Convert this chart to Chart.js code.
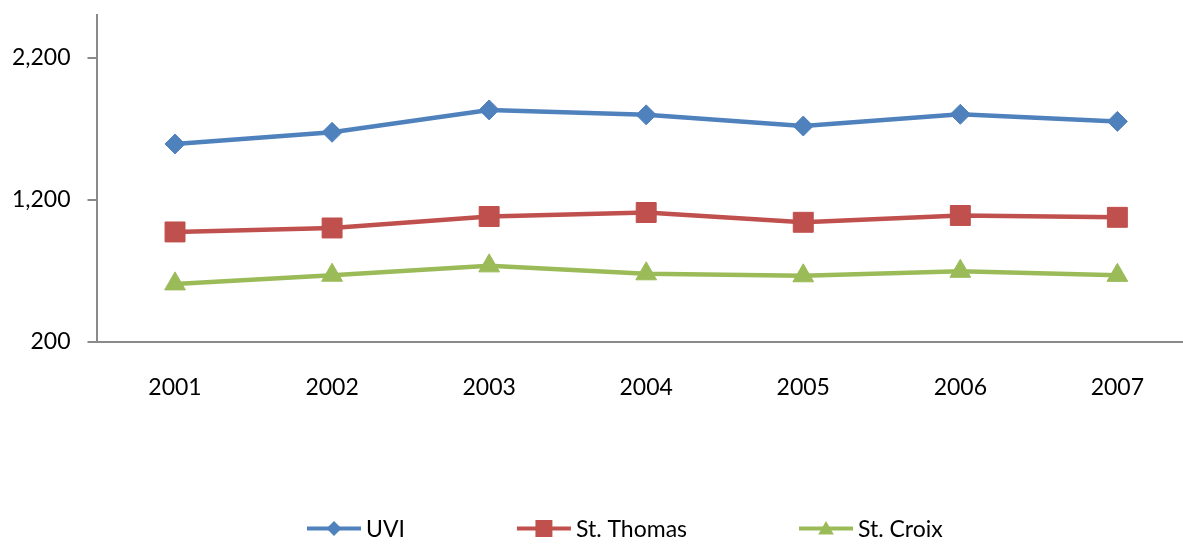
<!DOCTYPE html>
<html>
<head>
<meta charset="utf-8">
<script src="https://cdn.jsdelivr.net/npm/chart.js@4/dist/chart.umd.min.js"></script>
<style>
  html, body { margin: 0; padding: 0; background: #ffffff; overflow: hidden; }
  #c { display: block; }
</style>
</head>
<body>
<canvas id="c" width="1211" height="544" style="width:1211px;height:544px"></canvas>
<script>
// ---- data ----
const categories = ['2001', '2002', '2003', '2004', '2005', '2006', '2007'];
const seriesNames = ['UVI', 'St. Thomas', 'St. Croix'];
const uviValues = [1592, 1674, 1832, 1797, 1718, 1801, 1751];
const stThomasValues = [972, 1000, 1081, 1109, 1040, 1088, 1075];
const stCroixValues = [606, 667, 733, 677, 663, 695, 666];
const yTickValues = [200, 1200, 2200];
const yMin = 200;
const yMax = 2500;

const FONT = 'Lato, "Open Sans", sans-serif';
const FONT_SIZE = 23;
const AXIS_GRAY = '#8a8a8a';

function makeDataset(label, data, color, style, radius) {
  return {
    label: label,
    data: data,
    borderColor: color,
    backgroundColor: color,
    borderWidth: 4.5,
    pointStyle: style,
    pointRadius: radius,
    pointHoverRadius: radius,
    pointBackgroundColor: color,
    pointBorderColor: color,
    pointBorderWidth: 1,
    tension: 0,
    fill: false
  };
}

function drawMarker(ctx, style, x, y, r) {
  ctx.beginPath();
  if (style === 'rectRot') {
    ctx.moveTo(x - r, y); ctx.lineTo(x, y - r); ctx.lineTo(x + r, y); ctx.lineTo(x, y + r);
  } else if (style === 'rect') {
    const s = Math.SQRT1_2 * r;
    ctx.rect(x - s, y - s, 2 * s, 2 * s);
  } else {
    const h = r * 0.75;
    ctx.moveTo(x, y - h); ctx.lineTo(x + r * 0.78, y + h * 0.8); ctx.lineTo(x - r * 0.78, y + h * 0.8);
  }
  ctx.closePath();
  ctx.fill();
}

const legendPlugin = {
  id: 'customLegend',
  afterDraw(chart) {
    const ctx = chart.ctx;
    ctx.save();
    ctx.font = FONT_SIZE + 'px ' + FONT;
    ctx.textBaseline = 'middle';
    ctx.textAlign = 'left';
    const lineLen = 54, textGap = 5, itemGap = 112, y = 528.5;
    let x = 307;
    const legendR = { rectRot: 7.5, rect: 12, triangle: 10 };
    chart.data.datasets.forEach(ds => {
      ctx.strokeStyle = ds.borderColor;
      ctx.fillStyle = ds.borderColor;
      ctx.lineWidth = 4;
      ctx.beginPath();
      ctx.moveTo(x, y); ctx.lineTo(x + lineLen, y);
      ctx.stroke();
      drawMarker(ctx, ds.pointStyle, x + lineLen / 2, y, legendR[ds.pointStyle]);
      ctx.fillStyle = '#000000';
      ctx.fillText(ds.label, x + lineLen + textGap, y + 1);
      x += lineLen + textGap + ctx.measureText(ds.label).width + itemGap;
    });
    ctx.restore();
  }
};

new Chart(document.getElementById('c'), {
  type: 'line',
  data: {
    labels: categories,
    datasets: [
      makeDataset(seriesNames[0], uviValues, '#4F81BD', 'rectRot', 10),
      makeDataset(seriesNames[1], stThomasValues, '#C0504D', 'rect', 14.1),
      makeDataset(seriesNames[2], stCroixValues, '#9BBB59', 'triangle', 12)
    ]
  },
  options: {
    responsive: false,
    maintainAspectRatio: false,
    devicePixelRatio: 1,
    animation: false,
    layout: { padding: { left: 0, right: 4.5, top: 11.5, bottom: 0 } },
    plugins: {
      legend: { display: false },
      tooltip: { enabled: false },
      title: { display: false }
    },
    scales: {
      x: {
        type: 'category',
        offset: true,
        grid: { display: false, drawTicks: false, drawOnChartArea: false },
        border: { display: true, color: AXIS_GRAY, width: 2 },
        ticks: {
          color: '#000000',
          font: { family: FONT, size: FONT_SIZE },
          padding: 32,
          maxRotation: 0,
          autoSkip: false
        },
        afterFit(scale) {
          scale.height = 202.5;
          scale.paddingLeft = 0; scale.paddingRight = 0;
        }
      },
      y: {
        type: 'linear',
        min: yMin,
        max: yMax,
        grid: { display: true, drawOnChartArea: false, drawTicks: true, tickLength: 9, color: AXIS_GRAY, lineWidth: 2 },
        border: { display: true, color: AXIS_GRAY, width: 2 },
        ticks: {
          color: '#000000',
          font: { family: FONT, size: FONT_SIZE },
          padding: 17,
          callback: v => v.toLocaleString('en-US')
        },
        afterBuildTicks(scale) { scale.ticks = yTickValues.map(v => ({ value: v })); },
        afterFit(scale) {
          scale.width = 96.5;
          scale.paddingTop = 0; scale.paddingBottom = 0;
        }
      }
    }
  },
  plugins: [legendPlugin]
});
</script>
</body>
</html>
